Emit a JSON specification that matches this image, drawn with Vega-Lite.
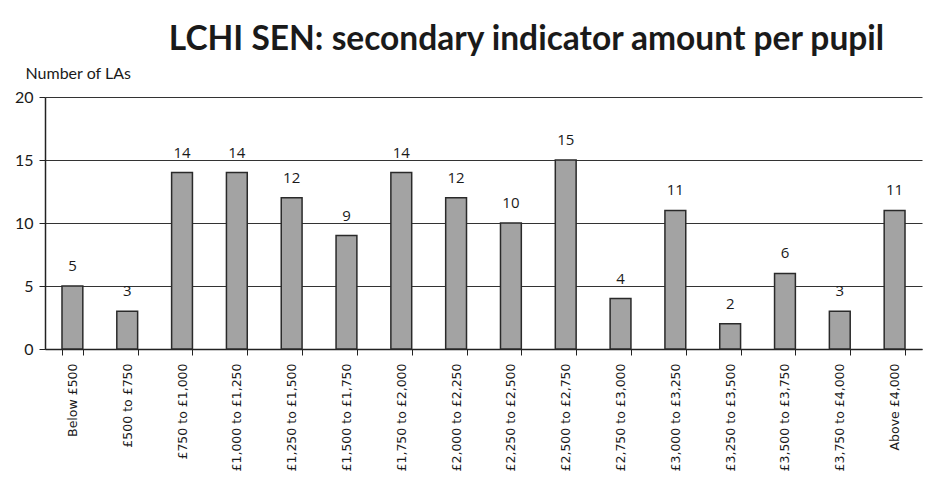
{
  "$schema": "https://vega.github.io/schema/vega-lite/v6.json",
  "width": 877,
  "height": 252,
  "autosize": {"type": "none"},
  "padding": {"left": 45, "top": 97, "right": 17, "bottom": 137},
  "background": "white",
  "title": {
    "text": "LCHI SEN: secondary indicator amount per pupil",
    "font": "Lato",
    "fontSize": 33.5,
    "fontWeight": "bold",
    "color": "#1a1a1a",
    "anchor": "middle",
    "dx": 43,
    "offset": 8
  },
  "config": {
    "view": {"stroke": null},
    "font": "Lato"
  },
  "data": {
    "values": [
      {"band": "Below £500", "n": 5},
      {"band": "£500 to £750", "n": 3},
      {"band": "£750 to £1,000", "n": 14},
      {"band": "£1,000 to £1,250", "n": 14},
      {"band": "£1,250 to £1,500", "n": 12},
      {"band": "£1,500 to £1,750", "n": 9},
      {"band": "£1,750 to £2,000", "n": 14},
      {"band": "£2,000 to £2,250", "n": 12},
      {"band": "£2,250 to £2,500", "n": 10},
      {"band": "£2,500 to £2,750", "n": 15},
      {"band": "£2,750 to £3,000", "n": 4},
      {"band": "£3,000 to £3,250", "n": 11},
      {"band": "£3,250 to £3,500", "n": 2},
      {"band": "£3,500 to £3,750", "n": 6},
      {"band": "£3,750 to £4,000", "n": 3},
      {"band": "Above £4,000", "n": 11}
    ]
  },
  "encoding": {
    "x": {
      "field": "band",
      "type": "nominal",
      "sort": null,
      "scale": {"paddingInner": 0.62, "paddingOuter": 0.31},
      "axis": {
        "title": null,
        "labelAngle": -90,
        "labelFont": "DejaVu Sans",
        "labelFontSize": 12.5,
        "labelColor": "#1a1a1a",
        "labelPadding": 8,
        "tickBand": "extent",
        "tickColor": "#222",
        "tickSize": 6,
        "domainColor": "#222",
        "domainWidth": 1.5
      }
    },
    "y": {
      "field": "n",
      "type": "quantitative",
      "scale": {"domain": [0, 20]},
      "axis": {
        "values": [0, 5, 10, 15, 20],
        "title": "Number of LAs",
        "titleAngle": 0,
        "titleAlign": "left",
        "titleBaseline": "bottom",
        "titleX": -20,
        "titleY": -16,
        "titleFont": "Lato",
        "titleFontSize": 16,
        "titleFontWeight": "normal",
        "titleColor": "#1a1a1a",
        "labelFont": "Lato",
        "labelFontSize": 16,
        "labelColor": "#1a1a1a",
        "labelPadding": 6,
        "grid": true,
        "gridColor": "#333",
        "gridWidth": 1.2,
        "tickColor": "#222",
        "tickSize": 6,
        "domainColor": "#222",
        "domainWidth": 1.5
      }
    }
  },
  "layer": [
    {
      "mark": {"type": "bar", "color": "#a3a3a3", "stroke": "#2a2a2a", "strokeWidth": 1.5}
    },
    {
      "mark": {"type": "text", "dy": -12, "baseline": "bottom", "font": "Open Sans", "fontSize": 15, "color": "#1a1a1a"},
      "encoding": {"text": {"field": "n", "type": "quantitative"}}
    }
  ]
}
